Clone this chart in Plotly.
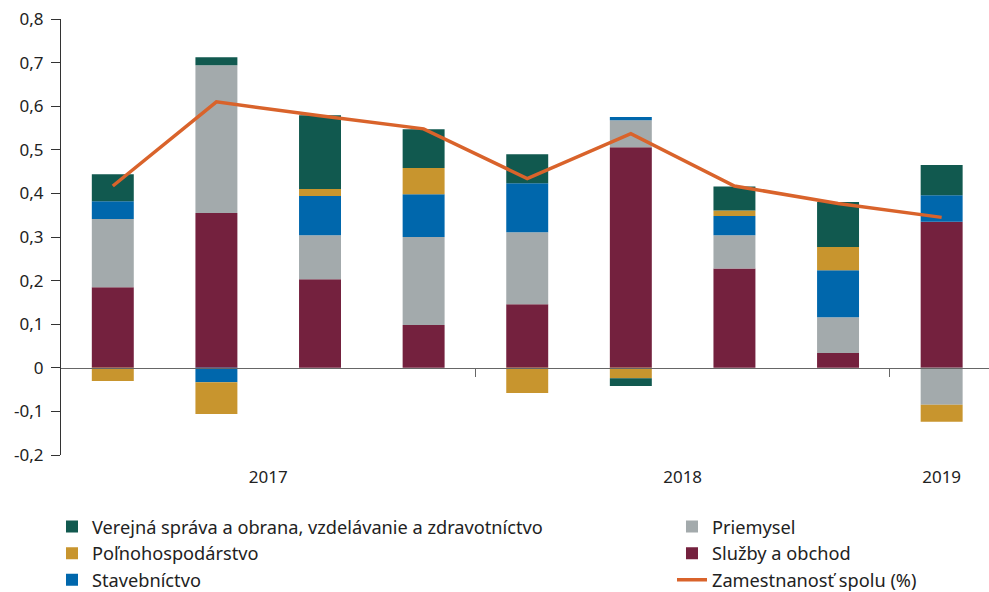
import numpy as np
import plotly.graph_objects as go

quarters = ["Q1 2017", "Q2 2017", "Q3 2017", "Q4 2017",
            "Q1 2018", "Q2 2018", "Q3 2018", "Q4 2018", "Q1 2019"]
years = ["2017", "2018", "2019"]

sluzby = [0.185, 0.355, 0.203, 0.098, 0.146, 0.506, 0.228, 0.034, 0.335]
priemysel = [0.156, 0.339, 0.101, 0.202, 0.165, 0.062, 0.076, 0.082, -0.085]
stavebnictvo = [0.041, -0.033, 0.090, 0.098, 0.112, 0.007, 0.044, 0.108, 0.061]
polnohosp = [-0.030, -0.073, 0.016, 0.060, -0.058, -0.024, 0.013, 0.053, -0.039]
verejna = [0.062, 0.018, 0.169, 0.089, 0.067, -0.018, 0.055, 0.103, 0.069]
spolu = [0.417, 0.610, 0.578, 0.548, 0.434, 0.537, 0.417, 0.377, 0.345]

y_ticks = [-0.2, -0.1, 0.0, 0.1, 0.2, 0.3, 0.4, 0.5, 0.6, 0.7, 0.8]
y_labels = ["-0,2", "-0,1", "0", "0,1", "0,2", "0,3", "0,4", "0,5", "0,6", "0,7", "0,8"]

x = np.arange(len(quarters))
year_of = [q.split()[1] for q in quarters]
year_pos = [float(np.mean([i for i, yy in enumerate(year_of) if yy == y])) for y in years]
boundaries = [i + 0.5 for i in range(len(quarters) - 1) if year_of[i] != year_of[i + 1]]

FONT = "Noto Sans"
fig = go.Figure()
series = [
    ("Služby a obchod", sluzby, "#74213E", "legend2", 2),
    ("Priemysel", priemysel, "#A3AAAC", "legend2", 1),
    ("Stavebníctvo", stavebnictvo, "#0067AC", "legend", 3),
    ("Poľnohospodárstvo", polnohosp, "#C8952E", "legend", 2),
    ("Verejná správa a obrana, vzdelávanie a zdravotníctvo", verejna, "#11594F", "legend", 1),
]
for name, vals, col, leg, rank in series:
    fig.add_trace(go.Bar(x=x, y=vals, name=name, marker_color=col,
                         marker_line_width=0, width=0.405, legend=leg, legendrank=rank))

fig.add_trace(go.Scatter(x=x, y=spolu, name="Zamestnanosť spolu (%)", mode="lines",
                         line=dict(color="#D9632B", width=3.5), xaxis="x2",
                         legend="legend2", legendrank=3))

xr = [-0.5, 8.457]
legfont = dict(family=FONT, size=18.2, color="#222")
fig.update_layout(
    width=989, height=592,
    barmode="relative",
    plot_bgcolor="white", paper_bgcolor="white",
    margin=dict(l=61, r=0, t=19, b=137, autoexpand=False),
    font=dict(family=FONT, size=17, color="#222"),
    xaxis=dict(range=xr, tickvals=year_pos, ticktext=years, showline=False,
               showgrid=False, zeroline=False, ticks="", ticklabelstandoff=10),
    xaxis2=dict(range=xr, overlaying="x", anchor="free", position=0.2,
                showline=True, linecolor="#666", linewidth=1.3,
                ticks="outside", tickvals=boundaries, ticklen=8, tickcolor="#666",
                showticklabels=False, showgrid=False, zeroline=False),
    yaxis=dict(range=[-0.2, 0.8], tickvals=y_ticks, ticktext=y_labels,
               showgrid=False, zeroline=False,
               showline=True, linecolor="#333", linewidth=1.2, ticks="outside",
               ticklen=9, tickcolor="#333", ticklabelstandoff=4),
    legend=dict(orientation="v", x=-0.0097, xanchor="left", y=-0.122, yanchor="top",
                traceorder="normal", font=legfont, bgcolor="rgba(0,0,0,0)"),
    legend2=dict(orientation="v", x=0.6584, xanchor="left", y=-0.122, yanchor="top",
                 traceorder="normal", font=legfont, bgcolor="rgba(0,0,0,0)"),
    showlegend=True,
)
fig.write_html("out.html", config={"displayModeBar": False},
               post_script="document.body.style.margin='0';document.body.style.overflow='hidden';")
